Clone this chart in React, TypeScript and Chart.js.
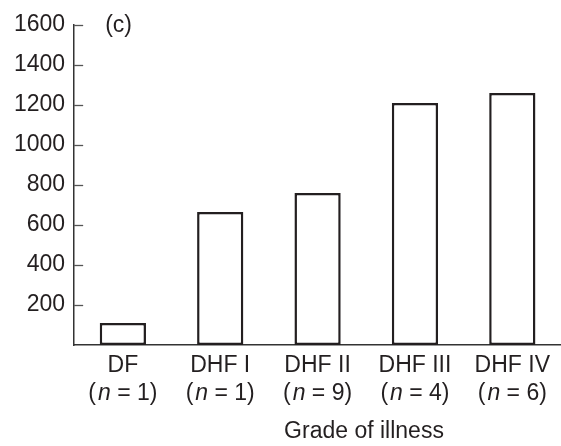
import React, { useEffect, useRef } from "react";
import { Chart, registerables } from "chart.js";

Chart.register(...registerables);

const categories = ["DF", "DHF I", "DHF II", "DHF III", "DHF IV"];
const sampleSizes = ["1", "1", "9", "4", "6"];
const values = [110, 665, 760, 1210, 1260];
const yTickValues = [200, 400, 600, 800, 1000, 1200, 1400, 1600];
const panelLabel = "(c)";
const xTitle = "Grade of illness";

const FONT = "'Liberation Sans', Arial, Helvetica, sans-serif";
const INK = "#231f20";
const FONT_SIZE = 23;

const overlayPlugin = {
  id: "overlay",
  afterDraw(chart: any) {
    const ctx = chart.ctx as CanvasRenderingContext2D;
    const xs = chart.scales.x;
    const ys = chart.scales.y;
    const area = chart.chartArea;
    ctx.save();
    ctx.strokeStyle = "#555";
    ctx.lineWidth = 1.3;
    yTickValues.forEach((v) => {
      const y = Math.round(ys.getPixelForValue(v)) + 0.5;
      ctx.beginPath();
      ctx.moveTo(area.left, y);
      ctx.lineTo(area.left + 9, y);
      ctx.stroke();
    });
    ctx.fillStyle = INK;
    ctx.textBaseline = "middle";
    const normal = `${FONT_SIZE}px ${FONT}`;
    const italic = `italic ${FONT_SIZE}px ${FONT}`;
    categories.forEach((c, i) => {
      const x = xs.getPixelForValue(i);
      ctx.font = normal;
      ctx.textAlign = "center";
      ctx.fillText(c, x, area.bottom + 21);
      const p1 = "(";
      const p2 = "n";
      const p3 = " = " + sampleSizes[i] + ")";
      ctx.font = normal;
      const w1 = ctx.measureText(p1).width + 2;
      const w3 = ctx.measureText(p3).width;
      ctx.font = italic;
      const w2 = ctx.measureText(p2).width;
      const total = w1 + w2 + w3;
      let sx = x - total / 2;
      ctx.textAlign = "left";
      ctx.font = normal;
      ctx.fillText(p1, sx, area.bottom + 49);
      sx += w1;
      ctx.font = italic;
      ctx.fillText(p2, sx, area.bottom + 49);
      sx += w2;
      ctx.font = normal;
      ctx.fillText(p3, sx, area.bottom + 49);
    });
    ctx.textAlign = "center";
    ctx.font = normal;
    ctx.fillText(xTitle, 364, area.bottom + 87);
    ctx.textAlign = "left";
    ctx.fillText(panelLabel, area.left + 31, ys.getPixelForValue(1600) + 1);
    ctx.restore();
  },
};

export default function App() {
  const ref = useRef<HTMLCanvasElement | null>(null);
  useEffect(() => {
    if (!ref.current) return;
    const chart = new Chart(ref.current, {
      type: "bar",
      data: {
        labels: categories,
        datasets: [
          {
            data: values,
            backgroundColor: "#ffffff",
            borderColor: INK,
            borderWidth: 2.5,
            borderSkipped: false,
            categoryPercentage: 1,
            barPercentage: 0.475,
          },
        ],
      },
      options: {
        animation: false,
        responsive: false,
        maintainAspectRatio: false,
        layout: { padding: { top: 25, right: -6, bottom: 101, left: 5 } },
        plugins: {
          legend: { display: false },
          tooltip: { enabled: false },
        },
        scales: {
          x: {
            grid: { display: false, drawTicks: false },
            border: { display: true, color: "#333", width: 1.5 },
            ticks: { display: false },
          },
          y: {
            min: 0,
            max: 1600,
            grid: { display: false, drawTicks: false },
            border: { display: true, color: "#333", width: 1.5 },
            ticks: {
              stepSize: 200,
              padding: 9,
              color: INK,
              font: { family: FONT, size: FONT_SIZE },
              callback: (v: any) => (v === 0 ? "" : String(v)),
            },
          },
        },
      },
      plugins: [overlayPlugin],
    });
    return () => chart.destroy();
  }, []);
  return (
    <div style={{ position: "fixed", left: 0, top: 0, width: 561, height: 446, background: "#fff" }}>
      <canvas ref={ref} width={561} height={446} style={{ width: 561, height: 446 }} />
    </div>
  );
}
